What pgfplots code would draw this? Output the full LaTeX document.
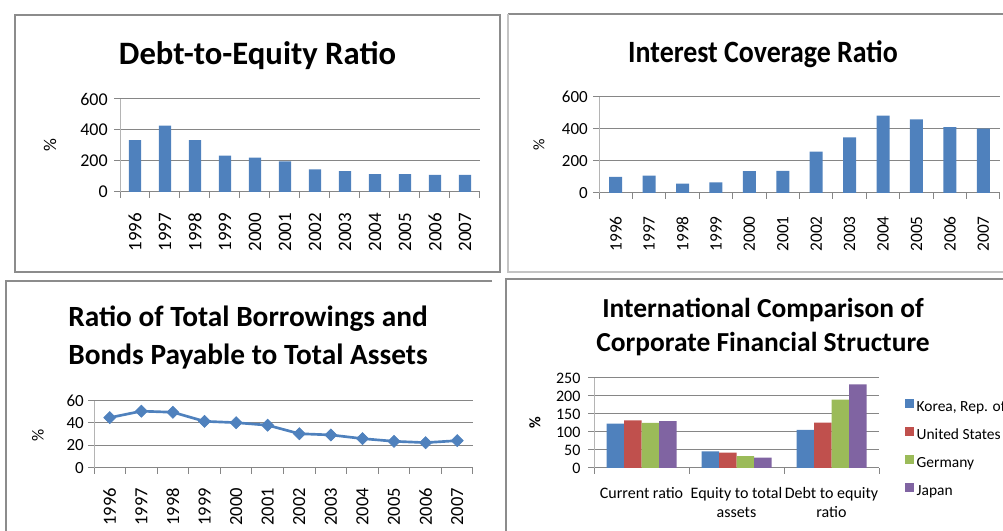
\documentclass[border=0pt]{standalone}
\usepackage{pgfplots}
\pgfplotsset{compat=1.18}
\usepackage{fontspec}
\usepackage{graphicx}
\setmainfont{Carlito}
\definecolor{c1}{HTML}{4F81BD}
\definecolor{c2}{HTML}{C0504D}
\definecolor{c3}{HTML}{9BBB59}
\definecolor{c4}{HTML}{8064A2}
\definecolor{gridc}{HTML}{868686}
\definecolor{axc}{HTML}{B4B4B4}
\definecolor{framec}{HTML}{8C8C8C}
\definecolor{framel}{HTML}{C4C4C4}
\pgfplotsset{
  excel/.style={
    scale only axis, anchor=south west, clip=false,
    axis lines*=left,
    ymajorgrids, grid style={draw=gridc, line width=0.75pt},
    x axis line style={draw=gridc, line width=0.75pt},
    y axis line style={draw=axc, line width=0.75pt},
    tick align=outside,
    major tick length=4.5pt, minor tick length=4.5pt,
    every major x tick/.append style={draw=none},
    every minor x tick/.append style={draw=gridc, line width=0.75pt},
    every major y tick/.append style={draw=gridc, line width=0.75pt},
    /pgf/number format/assume math mode=true,
    /pgf/number format/1000 sep={},
    yticklabel style={anchor=east, inner sep=0pt},
    xticklabel style={inner sep=0pt},
  },
  sqlegend/.style={legend image code/.code={\fill[##1] (0pt,0pt) rectangle (6.75pt,6.75pt);}},
}
\begin{document}
\begin{tikzpicture}[x=0.75pt,y=0.75pt]
\path[use as bounding box] (0,0) rectangle (1003,531);
% frames
\draw[framec, line width=1.5pt] (15,516) rectangle (500,259);
\draw[framec, line width=1.9pt] (508,517) -- (1010,517);
\draw[framel, line width=1.5pt] (508,517) -- (508,259) -- (1010,259);
\draw[framec, line width=1.5pt] (492,249.5) -- (6,249.5) -- (6,-10);
\draw[framec, line width=1.5pt] (1010,252) -- (506,252) -- (506,-10);

% ---------- Panel 1 ----------
\node[font=\fontsize{24.5}{29}\selectfont\bfseries, anchor=base] at (257.5,466) {Debt-to-Equity Ratio};
\node[rotate=90, font=\fontsize{13.5}{16}\selectfont] at (50,386) {\%};
\begin{axis}[excel, at={(90pt,254.25pt)}, width=270pt, height=69.75pt,
  xmin=1995.5, xmax=2007.5, ymin=0, ymax=600, ytick={0,200,400,600},
  xtick={1996,...,2007}, minor xtick={1995.5,1996.5,...,2007.5},
  ybar, bar width=9.2pt,
  xticklabel shift=11pt, yticklabel shift=4.5pt,
  yticklabel style={font=\fontsize{13.5}{16}\selectfont},
  xticklabel style={rotate=90, anchor=east, font=\fontsize{14.25}{17}\selectfont},
]
\addplot[fill=c1, draw=none] coordinates {(1996,335) (1997,428) (1998,335) (1999,234) (2000,221) (2001,198) (2002,146) (2003,135) (2004,116) (2005,116) (2006,110) (2007,110)};
\end{axis}

% ---------- Panel 2 ----------
\node[font=\fontsize{23.25}{28}\selectfont\bfseries, anchor=base] at (763,468) {\scalebox{0.9}[1]{Interest Coverage Ratio}};
\node[rotate=90, font=\fontsize{12}{14}\selectfont] at (539,386) {\%};
\begin{axis}[excel, at={(449.25pt,253.5pt)}, width=300.75pt, height=72pt,
  xmin=1995.5, xmax=2007.5, ymin=0, ymax=600, ytick={0,200,400,600},
  xtick={1996,...,2007}, minor xtick={1995.5,1996.5,...,2007.5},
  ybar, bar width=9.75pt,
  xticklabel shift=12.75pt, yticklabel shift=3.75pt,
  yticklabel style={font=\fontsize{12.75}{15}\selectfont},
  xticklabel style={rotate=90, anchor=east, font=\fontsize{13}{15}\selectfont},
]
\addplot[fill=c1, draw=none] coordinates {(1996,100) (1997,108) (1998,58) (1999,66) (2000,137) (2001,139) (2002,259) (2003,348) (2004,483) (2005,460) (2006,412) (2007,403)};
\end{axis}

% ---------- Panel 3 ----------
\node[font=\fontsize{22}{29}\selectfont\bfseries, anchor=base] at (248,204) {Ratio of Total Borrowings and};
\node[font=\fontsize{22}{29}\selectfont\bfseries, anchor=base] at (248,166) {Bonds Payable to Total Assets};
\node[rotate=90, font=\fontsize{12.75}{15}\selectfont] at (38,96) {\%};
\begin{axis}[excel, at={(70.5pt,47.5pt)}, width=284.25pt, height=50.25pt,
  xmin=1995.5, xmax=2007.5, ymin=0, ymax=60, ytick={0,20,40,60},
  xtick={1996,...,2007}, minor xtick={1995.5,1996.5,...,2007.5},
  xticklabel shift=10.5pt, yticklabel shift=3pt,
  yticklabel style={font=\fontsize{12.75}{15}\selectfont},
  xticklabel style={rotate=90, anchor=east, font=\fontsize{13.9}{16}\selectfont},
]
\addplot[c1, line width=2pt, mark=square*, mark size=3.2pt, mark options={rotate=45, line width=0.5pt, fill=c1}] coordinates {(1996,44.8) (1997,50.6) (1998,49.6) (1999,41.5) (2000,40.3) (2001,38) (2002,30.4) (2003,29.3) (2004,26) (2005,23.6) (2006,22.4) (2007,24.2)};
\end{axis}

% ---------- Panel 4 ----------
\node[font=\fontsize{20.6}{25}\selectfont\bfseries, anchor=base] at (763,213) {International Comparison of};
\node[font=\fontsize{20.6}{25}\selectfont\bfseries, anchor=base] at (763,179) {Corporate Financial Structure};
\node[rotate=90, font=\fontsize{12}{14}\selectfont\bfseries] at (535,108) {\%};
\begin{axis}[excel, at={(445.5pt,47.25pt)}, width=213.75pt, height=67.5pt,
  xmin=-0.5, xmax=2.5, ymin=0, ymax=250, ytick={0,50,...,250},
  xtick={0,1,2}, minor xtick={-0.5,0.5,1.5,2.5},
  xticklabels={Current ratio,{Equity to total\\assets},{Debt to equity\\ratio}},
  ybar=0pt, bar width=13.125pt,
  xticklabel shift=10pt, yticklabel shift=5.5pt,
  yticklabel style={font=\fontsize{12}{14}\selectfont},
  xticklabel style={anchor=north, align=center, font=\fontsize{12}{14.25}\selectfont},
  legend style={at={(1.0912,0.2144)}, anchor=west, draw=none, fill=none, inner sep=0pt,
    row sep=9pt, font=\fontsize{11.6}{14}\selectfont,
    nodes={inner sep=0pt, text height=8.25pt, text depth=2.25pt},
    /tikz/every odd column/.append style={column sep=1.8pt}},
  legend cell align=left,
]
\addplot[fill=c1, draw=none, sqlegend] coordinates {(0,123) (1,46) (2,106)};
\addplot[fill=c2, draw=none, sqlegend] coordinates {(0,132.5) (1,43) (2,126)};
\addplot[fill=c3, draw=none, sqlegend] coordinates {(0,125) (1,33) (2,190)};
\addplot[fill=c4, draw=none, sqlegend] coordinates {(0,130) (1,29) (2,232)};
\legend{Korea{,} Rep. of, United States, Germany, Japan}
\end{axis}
\end{tikzpicture}
\end{document}
